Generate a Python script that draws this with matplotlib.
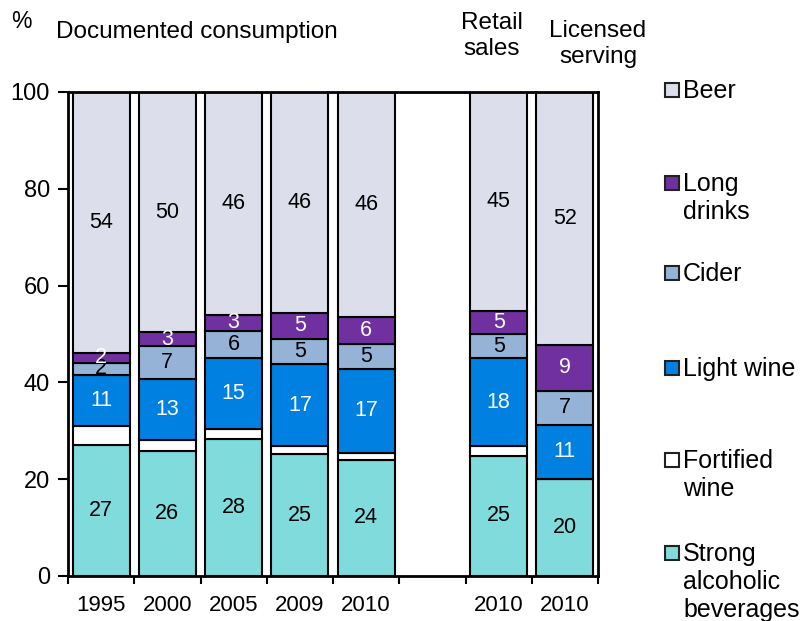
import matplotlib
matplotlib.use('Agg')
import matplotlib.pyplot as plt
from matplotlib.patches import Rectangle

plt.rcParams['font.family'] = ['Liberation Sans', 'DejaVu Sans']

# category slots (slot 5 is left empty as a gap)
years = ['1995', '2000', '2005', '2009', '2010', '2010', '2010']
slots = [0, 1, 2, 3, 4, 6, 7]

# shares in %, bottom to top
strong = [27.1, 25.9, 28.4, 25.2, 24.0, 24.8, 20.0]
fortified = [3.8, 2.2, 2.0, 1.6, 1.5, 2.0, 0.0]
light_wine = [10.7, 12.6, 14.6, 16.9, 17.3, 18.2, 11.3]
cider = [2.4, 6.8, 5.7, 5.3, 5.2, 4.9, 7.0]
long_drinks = [2.1, 2.9, 3.3, 5.4, 5.6, 4.8, 9.4]
beer = [53.9, 49.6, 46.0, 45.6, 46.4, 45.3, 52.3]

series = [
    ('Strong\nalcoholic\nbeverages', strong, '#80DBDC', 'black', True),
    ('Fortified\nwine', fortified, 'white', 'black', False),
    ('Light wine', light_wine, '#0080E0', 'white', True),
    ('Cider', cider, '#95B3D7', 'black', True),
    ('Long\ndrinks', long_drinks, '#7030A0', 'white', True),
    ('Beer', beer, '#DCDEEC', 'black', True),
]

fig = plt.figure(figsize=(8.01, 6.21), dpi=100)
ax = fig.add_axes([68 / 801, 1 - 576 / 621, (598 - 68) / 801, (576 - 92) / 621])

bottom = [0] * len(slots)
for name, vals, color, txtcolor, show in series:
    ax.bar(slots, vals, width=0.86, bottom=bottom, color=color,
           edgecolor='black', linewidth=1.5, zorder=2)
    if show:
        for x, b, v in zip(slots, bottom, vals):
            ax.text(x, b + v / 2, '%.0f' % v, ha='center', va='center',
                    fontsize=15.5, color=txtcolor, zorder=3)
    bottom = [b + v for b, v in zip(bottom, vals)]

ax.set_xlim(-0.5, 7.5)
ax.set_ylim(0, 100)
ax.set_yticks([0, 20, 40, 60, 80, 100])
ax.tick_params(axis='y', labelsize=17, length=7, width=1.5, direction='out', pad=6)
# x ticks sit between the categories, labels under the bars
ax.set_xticks([i - 0.5 for i in range(9)])
ax.set_xticklabels([])
ax.tick_params(axis='x', length=6, width=1.5, direction='out')
for x, lab in zip(slots, years):
    ax.text(x, -6, lab, ha='center', va='center', fontsize=16,
            transform=ax.transData, clip_on=False)
for sp in ax.spines.values():
    sp.set_linewidth(2)

# header texts
def px(x, y):
    return x / 801, 1 - y / 621

fig.text(*px(11, 22), '%', fontsize=16.5, ha='left', va='center')
fig.text(*px(56, 32), 'Documented consumption', fontsize=17.5, ha='left', va='center')
fig.text(*px(492, 36), 'Retail\nsales', fontsize=17.5, ha='center', va='center')
fig.text(*px(598, 44), 'Licensed\nserving', fontsize=17.5, ha='center', va='center')

# legend, top entry first, evenly spaced
leg_y = [90, 183, 273, 368, 460, 553]
for (name, vals, color, txtcolor, show), y in zip(series[::-1], leg_y):
    x0, y0 = px(665, y + 7)
    fig.patches.append(Rectangle((x0, y0), 14 / 801, 14 / 621, facecolor=color,
                                 edgecolor='#222222', linewidth=1.5,
                                 transform=fig.transFigure, figure=fig))
    fig.text(*px(683, y - 11), name, fontsize=18, ha='left', va='top')

fig.savefig('out.png', dpi=100)
